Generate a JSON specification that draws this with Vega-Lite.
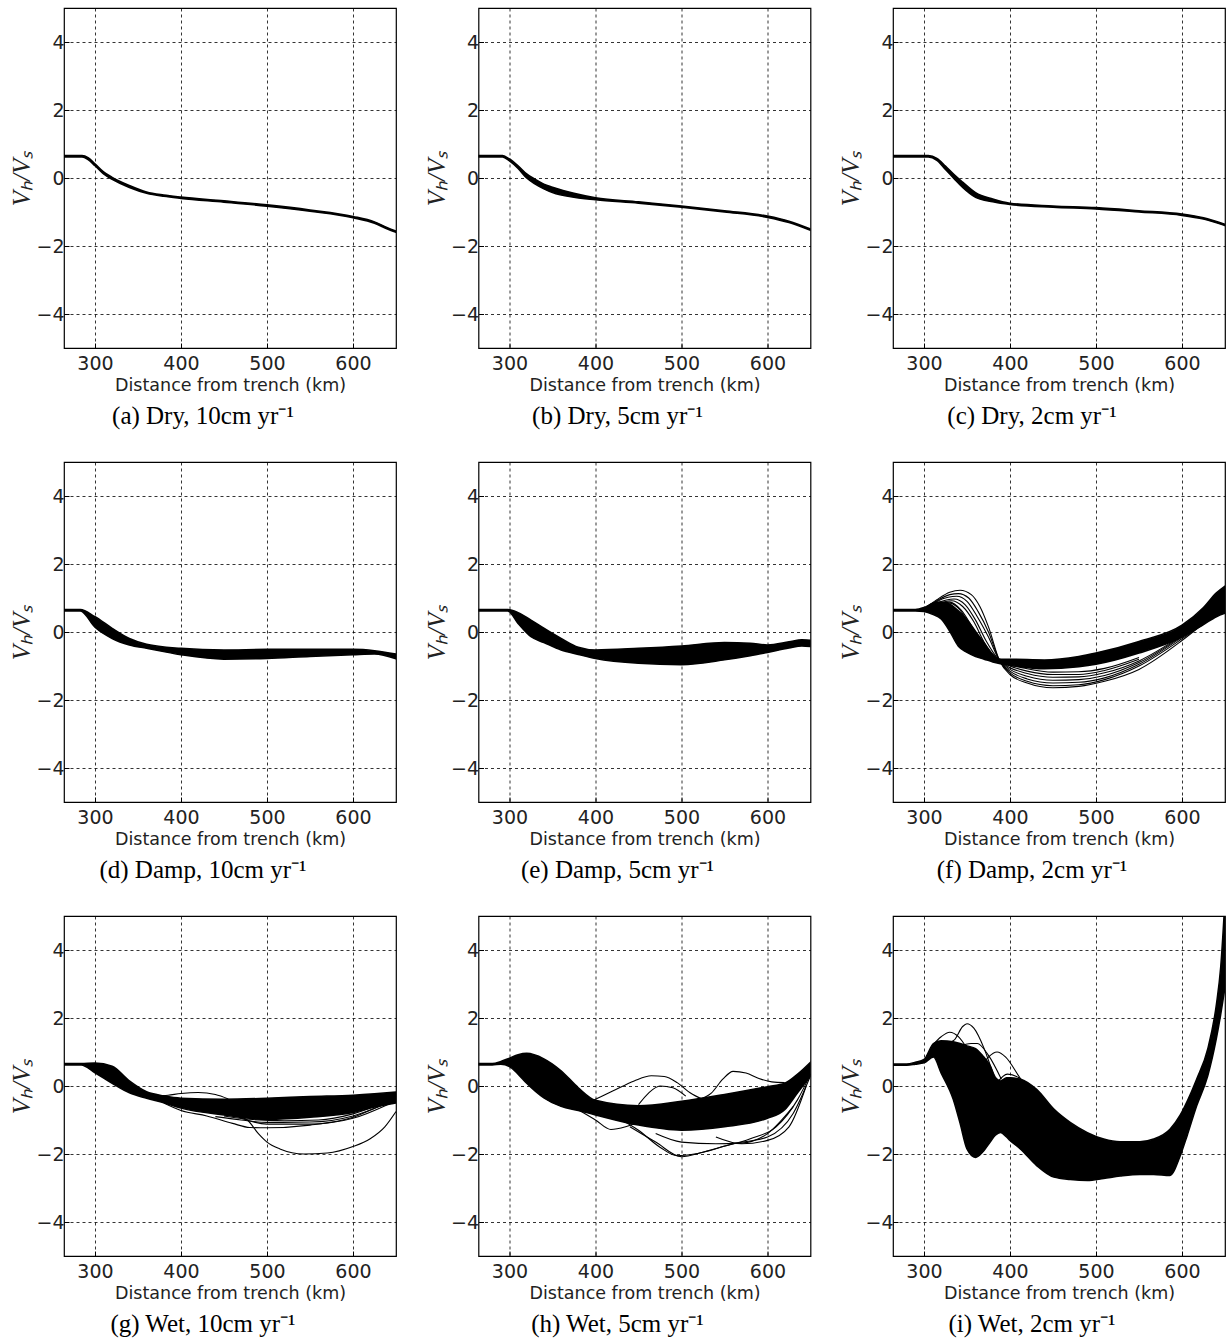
{
"$schema": "https://vega.github.io/schema/vega-lite/v6.json",
"padding": {"left": 9, "top": 7, "right": 0, "bottom": 0},
"background": "white",
"columns": 3,
"spacing": {"row": 31, "column": 26.5},
"config": {
 "view": {"stroke": "black", "strokeWidth": 1.2},
 "axis": {"domain": false, "grid": true, "gridColor": "black", "gridDash": [3, 3], "gridWidth": 0.8, "gridOpacity": 1, "labelFont": "DejaVu Sans", "labelFontSize": 19, "labelColor": "#222", "titleFont": "DejaVu Sans", "titleFontWeight": "normal", "titleColor": "#222", "tickColor": "black", "tickSize": -5, "tickWidth": 1},
 "axisX": {"titleFontSize": 17.5, "titlePadding": 3, "labelPadding": 11},
 "axisY": {"titleFont": "Liberation Serif", "titleFontStyle": "italic", "titleFontSize": 25, "titlePadding": 1, "labelPadding": 5},
 "title": {"font": "Liberation Serif", "fontSize": 25, "fontWeight": "normal", "color": "black", "orient": "bottom", "anchor": "middle", "frame": "bounds", "offset": 10}
},
"datasets": {
"band": [
{"p":"a","x":264,"y":0.62,"hi":0.66},{"p":"a","x":285,"y":0.62,"hi":0.66},{"p":"a","x":292,"y":0.54,"hi":0.6},{"p":"a","x":300,"y":0.36,"hi":0.42},{"p":"a","x":310,"y":0.12,"hi":0.18},{"p":"a","x":320,"y":-0.04,"hi":0.02},{"p":"a","x":340,"y":-0.28,"hi":-0.22},{"p":"a","x":360,"y":-0.45,"hi":-0.41},{"p":"a","x":380,"y":-0.54,"hi":-0.5},{"p":"a","x":400,"y":-0.6,"hi":-0.56},{"p":"a","x":450,"y":-0.71,"hi":-0.67},{"p":"a","x":500,"y":-0.83,"hi":-0.79},{"p":"a","x":550,"y":-0.98,"hi":-0.94},{"p":"a","x":600,"y":-1.17,"hi":-1.13},{"p":"a","x":625,"y":-1.33,"hi":-1.29},{"p":"a","x":640,"y":-1.5,"hi":-1.46},{"p":"a","x":650,"y":-1.6,"hi":-1.56},
{"p":"b","x":264,"y":0.62,"hi":0.66},{"p":"b","x":292,"y":0.62,"hi":0.66},{"p":"b","x":300,"y":0.5,"hi":0.56},{"p":"b","x":310,"y":0.28,"hi":0.36},{"p":"b","x":320,"y":0.0,"hi":0.12},{"p":"b","x":330,"y":-0.18,"hi":-0.04},{"p":"b","x":340,"y":-0.32,"hi":-0.18},{"p":"b","x":350,"y":-0.43,"hi":-0.27},{"p":"b","x":375,"y":-0.57,"hi":-0.45},{"p":"b","x":400,"y":-0.64,"hi":-0.58},{"p":"b","x":450,"y":-0.74,"hi":-0.7},{"p":"b","x":500,"y":-0.86,"hi":-0.82},{"p":"b","x":550,"y":-1.0,"hi":-0.96},{"p":"b","x":600,"y":-1.16,"hi":-1.12},{"p":"b","x":625,"y":-1.31,"hi":-1.27},{"p":"b","x":650,"y":-1.54,"hi":-1.5},
{"p":"c","x":264,"y":0.62,"hi":0.66},{"p":"c","x":305,"y":0.62,"hi":0.66},{"p":"c","x":315,"y":0.52,"hi":0.58},{"p":"c","x":325,"y":0.25,"hi":0.35},{"p":"c","x":335,"y":-0.02,"hi":0.1},{"p":"c","x":345,"y":-0.28,"hi":-0.12},{"p":"c","x":360,"y":-0.57,"hi":-0.43},{"p":"c","x":380,"y":-0.7,"hi":-0.62},{"p":"c","x":400,"y":-0.78,"hi":-0.74},{"p":"c","x":450,"y":-0.86,"hi":-0.82},{"p":"c","x":500,"y":-0.91,"hi":-0.87},{"p":"c","x":550,"y":-1.0,"hi":-0.96},{"p":"c","x":600,"y":-1.1,"hi":-1.06},{"p":"c","x":625,"y":-1.21,"hi":-1.17},{"p":"c","x":650,"y":-1.4,"hi":-1.36},
{"p":"d","x":264,"y":0.62,"hi":0.66},{"p":"d","x":283,"y":0.62,"hi":0.66},{"p":"d","x":300,"y":0.14,"hi":0.45},{"p":"d","x":320,"y":-0.19,"hi":0.11},{"p":"d","x":340,"y":-0.38,"hi":-0.19},{"p":"d","x":360,"y":-0.48,"hi":-0.36},{"p":"d","x":400,"y":-0.67,"hi":-0.48},{"p":"d","x":450,"y":-0.8,"hi":-0.53},{"p":"d","x":500,"y":-0.78,"hi":-0.51},{"p":"d","x":550,"y":-0.72,"hi":-0.51},{"p":"d","x":600,"y":-0.67,"hi":-0.51},{"p":"d","x":625,"y":-0.65,"hi":-0.55},{"p":"d","x":650,"y":-0.79,"hi":-0.65},
{"p":"e","x":264,"y":0.62,"hi":0.66},{"p":"e","x":298,"y":0.62,"hi":0.66},{"p":"e","x":310,"y":0.25,"hi":0.57},{"p":"e","x":325,"y":-0.14,"hi":0.35},{"p":"e","x":340,"y":-0.31,"hi":0.11},{"p":"e","x":360,"y":-0.53,"hi":-0.19},{"p":"e","x":380,"y":-0.66,"hi":-0.45},{"p":"e","x":400,"y":-0.78,"hi":-0.53},{"p":"e","x":450,"y":-0.92,"hi":-0.48},{"p":"e","x":500,"y":-0.96,"hi":-0.41},{"p":"e","x":550,"y":-0.82,"hi":-0.31},{"p":"e","x":580,"y":-0.7,"hi":-0.33},{"p":"e","x":600,"y":-0.6,"hi":-0.38},{"p":"e","x":625,"y":-0.47,"hi":-0.29},{"p":"e","x":640,"y":-0.41,"hi":-0.23},{"p":"e","x":650,"y":-0.43,"hi":-0.24},
{"p":"f","x":264,"y":0.62,"hi":0.66},{"p":"f","x":290,"y":0.62,"hi":0.66},{"p":"f","x":300,"y":0.6,"hi":0.72},{"p":"f","x":310,"y":0.52,"hi":0.84},{"p":"f","x":320,"y":0.38,"hi":0.88},{"p":"f","x":330,"y":0.02,"hi":0.82},{"p":"f","x":340,"y":-0.42,"hi":0.62},{"p":"f","x":350,"y":-0.6,"hi":0.36},{"p":"f","x":360,"y":-0.72,"hi":0.02},{"p":"f","x":370,"y":-0.8,"hi":-0.33},{"p":"f","x":380,"y":-0.88,"hi":-0.68},{"p":"f","x":390,"y":-0.94,"hi":-0.8},{"p":"f","x":400,"y":-0.98,"hi":-0.8},{"p":"f","x":440,"y":-1.08,"hi":-0.82},{"p":"f","x":480,"y":-1.02,"hi":-0.72},{"p":"f","x":500,"y":-0.95,"hi":-0.62},{"p":"f","x":550,"y":-0.62,"hi":-0.28},{"p":"f","x":600,"y":-0.15,"hi":0.2},{"p":"f","x":625,"y":0.22,"hi":0.72},{"p":"f","x":640,"y":0.45,"hi":1.15},{"p":"f","x":650,"y":0.55,"hi":1.35},
{"p":"g","x":264,"y":0.62,"hi":0.66},{"p":"g","x":284,"y":0.62,"hi":0.66},{"p":"g","x":300,"y":0.39,"hi":0.68},{"p":"g","x":320,"y":0.08,"hi":0.58},{"p":"g","x":340,"y":-0.2,"hi":0.15},{"p":"g","x":360,"y":-0.36,"hi":-0.17},{"p":"g","x":380,"y":-0.49,"hi":-0.29},{"p":"g","x":400,"y":-0.65,"hi":-0.36},{"p":"g","x":450,"y":-0.85,"hi":-0.39},{"p":"g","x":500,"y":-0.98,"hi":-0.36},{"p":"g","x":550,"y":-0.92,"hi":-0.31},{"p":"g","x":600,"y":-0.78,"hi":-0.27},{"p":"g","x":625,"y":-0.62,"hi":-0.23},{"p":"g","x":650,"y":-0.5,"hi":-0.18},
{"p":"h","x":264,"y":0.62,"hi":0.66},{"p":"h","x":280,"y":0.62,"hi":0.66},{"p":"h","x":290,"y":0.64,"hi":0.72},{"p":"h","x":300,"y":0.57,"hi":0.82},{"p":"h","x":310,"y":0.35,"hi":0.92},{"p":"h","x":320,"y":0.08,"hi":0.96},{"p":"h","x":340,"y":-0.35,"hi":0.8},{"p":"h","x":360,"y":-0.6,"hi":0.45},{"p":"h","x":380,"y":-0.72,"hi":-0.05},{"p":"h","x":400,"y":-0.85,"hi":-0.42},{"p":"h","x":450,"y":-1.15,"hi":-0.58},{"p":"h","x":500,"y":-1.3,"hi":-0.45},{"p":"h","x":550,"y":-1.2,"hi":-0.25},{"p":"h","x":600,"y":-0.95,"hi":-0.02},{"p":"h","x":620,"y":-0.7,"hi":0.08},{"p":"h","x":635,"y":-0.2,"hi":0.35},{"p":"h","x":650,"y":0.3,"hi":0.7},
{"p":"i","x":264,"y":0.61,"hi":0.65},{"p":"i","x":280,"y":0.61,"hi":0.65},{"p":"i","x":290,"y":0.64,"hi":0.7},{"p":"i","x":300,"y":0.68,"hi":0.78},{"p":"i","x":311,"y":0.85,"hi":1.25},{"p":"i","x":320,"y":0.38,"hi":1.33},{"p":"i","x":334,"y":-0.39,"hi":1.3},{"p":"i","x":342,"y":-1.1,"hi":1.25},{"p":"i","x":350,"y":-1.85,"hi":1.18},{"p":"i","x":360,"y":-2.1,"hi":1.1},{"p":"i","x":368,"y":-1.95,"hi":0.9},{"p":"i","x":377,"y":-1.65,"hi":0.59},{"p":"i","x":383,"y":-1.45,"hi":0.25},{"p":"i","x":389,"y":-1.37,"hi":0.15},{"p":"i","x":396,"y":-1.5,"hi":0.24},{"p":"i","x":400,"y":-1.6,"hi":0.24},{"p":"i","x":412,"y":-1.85,"hi":0.2},{"p":"i","x":431,"y":-2.34,"hi":-0.1},{"p":"i","x":451,"y":-2.68,"hi":-0.68},{"p":"i","x":470,"y":-2.75,"hi":-1.07},{"p":"i","x":490,"y":-2.78,"hi":-1.37},{"p":"i","x":509,"y":-2.72,"hi":-1.56},{"p":"i","x":528,"y":-2.65,"hi":-1.64},{"p":"i","x":551,"y":-2.6,"hi":-1.64},{"p":"i","x":567,"y":-2.6,"hi":-1.56},{"p":"i","x":586,"y":-2.63,"hi":-1.27},{"p":"i","x":598,"y":-2.05,"hi":-0.85},{"p":"i","x":606,"y":-1.46,"hi":-0.45},{"p":"i","x":617,"y":-0.59,"hi":0.2},{"p":"i","x":630,"y":0.3,"hi":1.1},{"p":"i","x":640,"y":1.4,"hi":2.4},{"p":"i","x":645,"y":2.1,"hi":3.5},{"p":"i","x":650,"y":2.9,"hi":5.5}
],
"curves": [
{"p":"f","c":1,"x":300,"y":0.68},{"p":"f","c":1,"x":315,"y":0.95},{"p":"f","c":1,"x":330,"y":1.17},{"p":"f","c":1,"x":342,"y":1.23},{"p":"f","c":1,"x":355,"y":1.1},{"p":"f","c":1,"x":365,"y":0.75},{"p":"f","c":1,"x":375,"y":0.15},{"p":"f","c":1,"x":388,"y":-0.85},{"p":"f","c":1,"x":400,"y":-1.25},{"p":"f","c":1,"x":420,"y":-1.5},{"p":"f","c":1,"x":450,"y":-1.64},{"p":"f","c":1,"x":480,"y":-1.6},{"p":"f","c":1,"x":510,"y":-1.45},{"p":"f","c":1,"x":550,"y":-1.1},{"p":"f","c":1,"x":600,"y":-0.25},{"p":"f","c":1,"x":625,"y":0.25},
{"p":"f","c":2,"x":300,"y":0.67},{"p":"f","c":2,"x":315,"y":0.92},{"p":"f","c":2,"x":330,"y":1.1},{"p":"f","c":2,"x":340,"y":1.13},{"p":"f","c":2,"x":352,"y":1.0},{"p":"f","c":2,"x":363,"y":0.6},{"p":"f","c":2,"x":375,"y":0.0},{"p":"f","c":2,"x":388,"y":-0.85},{"p":"f","c":2,"x":400,"y":-1.2},{"p":"f","c":2,"x":420,"y":-1.45},{"p":"f","c":2,"x":450,"y":-1.58},{"p":"f","c":2,"x":480,"y":-1.55},{"p":"f","c":2,"x":510,"y":-1.4},{"p":"f","c":2,"x":550,"y":-1.0},{"p":"f","c":2,"x":600,"y":-0.2},{"p":"f","c":2,"x":625,"y":0.25},
{"p":"f","c":3,"x":300,"y":0.67},{"p":"f","c":3,"x":315,"y":0.9},{"p":"f","c":3,"x":328,"y":1.02},{"p":"f","c":3,"x":338,"y":1.05},{"p":"f","c":3,"x":350,"y":0.9},{"p":"f","c":3,"x":362,"y":0.45},{"p":"f","c":3,"x":375,"y":-0.15},{"p":"f","c":3,"x":388,"y":-0.85},{"p":"f","c":3,"x":400,"y":-1.15},{"p":"f","c":3,"x":420,"y":-1.38},{"p":"f","c":3,"x":450,"y":-1.5},{"p":"f","c":3,"x":480,"y":-1.48},{"p":"f","c":3,"x":510,"y":-1.35},{"p":"f","c":3,"x":550,"y":-0.95},{"p":"f","c":3,"x":600,"y":-0.15},
{"p":"f","c":4,"x":300,"y":0.66},{"p":"f","c":4,"x":315,"y":0.85},{"p":"f","c":4,"x":335,"y":0.97},{"p":"f","c":4,"x":348,"y":0.8},{"p":"f","c":4,"x":360,"y":0.35},{"p":"f","c":4,"x":372,"y":-0.25},{"p":"f","c":4,"x":388,"y":-0.85},{"p":"f","c":4,"x":400,"y":-1.1},{"p":"f","c":4,"x":420,"y":-1.3},{"p":"f","c":4,"x":450,"y":-1.42},{"p":"f","c":4,"x":480,"y":-1.4},{"p":"f","c":4,"x":510,"y":-1.28},{"p":"f","c":4,"x":550,"y":-0.9},{"p":"f","c":4,"x":600,"y":-0.12},
{"p":"f","c":5,"x":300,"y":0.66},{"p":"f","c":5,"x":315,"y":0.82},{"p":"f","c":5,"x":332,"y":0.92},{"p":"f","c":5,"x":345,"y":0.75},{"p":"f","c":5,"x":358,"y":0.3},{"p":"f","c":5,"x":370,"y":-0.3},{"p":"f","c":5,"x":388,"y":-0.85},{"p":"f","c":5,"x":400,"y":-1.05},{"p":"f","c":5,"x":420,"y":-1.22},{"p":"f","c":5,"x":450,"y":-1.33},{"p":"f","c":5,"x":480,"y":-1.32},{"p":"f","c":5,"x":510,"y":-1.2},{"p":"f","c":5,"x":550,"y":-0.85},{"p":"f","c":5,"x":600,"y":-0.1},
{"p":"f","c":6,"x":300,"y":0.65},{"p":"f","c":6,"x":315,"y":0.8},{"p":"f","c":6,"x":330,"y":0.88},{"p":"f","c":6,"x":343,"y":0.65},{"p":"f","c":6,"x":355,"y":0.2},{"p":"f","c":6,"x":368,"y":-0.35},{"p":"f","c":6,"x":388,"y":-0.85},{"p":"f","c":6,"x":400,"y":-1.0},{"p":"f","c":6,"x":420,"y":-1.15},{"p":"f","c":6,"x":450,"y":-1.25},{"p":"f","c":6,"x":480,"y":-1.25},{"p":"f","c":6,"x":510,"y":-1.13},{"p":"f","c":6,"x":550,"y":-0.8},
{"p":"f","c":7,"x":300,"y":0.65},{"p":"f","c":7,"x":330,"y":0.85},{"p":"f","c":7,"x":340,"y":0.7},{"p":"f","c":7,"x":352,"y":0.25},{"p":"f","c":7,"x":365,"y":-0.35},{"p":"f","c":7,"x":388,"y":-0.85},{"p":"f","c":7,"x":420,"y":-1.08},{"p":"f","c":7,"x":450,"y":-1.18},{"p":"f","c":7,"x":480,"y":-1.17},{"p":"f","c":7,"x":510,"y":-1.07},{"p":"f","c":7,"x":550,"y":-0.75},
{"p":"g","c":1,"x":460,"y":-0.85},{"p":"g","c":1,"x":477,"y":-1.0},{"p":"g","c":1,"x":490,"y":-1.4},{"p":"g","c":1,"x":500,"y":-1.65},{"p":"g","c":1,"x":515,"y":-1.85},{"p":"g","c":1,"x":543,"y":-2.0},{"p":"g","c":1,"x":570,"y":-1.97},{"p":"g","c":1,"x":600,"y":-1.78},{"p":"g","c":1,"x":620,"y":-1.55},{"p":"g","c":1,"x":637,"y":-1.2},{"p":"g","c":1,"x":650,"y":-0.75},
{"p":"g","c":2,"x":370,"y":-0.3},{"p":"g","c":2,"x":385,"y":-0.27},{"p":"g","c":2,"x":400,"y":-0.22},{"p":"g","c":2,"x":420,"y":-0.19},{"p":"g","c":2,"x":440,"y":-0.25},{"p":"g","c":2,"x":455,"y":-0.38},
{"p":"g","c":3,"x":380,"y":-0.5},{"p":"g","c":3,"x":400,"y":-0.72},{"p":"g","c":3,"x":430,"y":-0.88},{"p":"g","c":3,"x":460,"y":-1.1},{"p":"g","c":3,"x":480,"y":-1.22},{"p":"g","c":3,"x":500,"y":-1.23},{"p":"g","c":3,"x":550,"y":-1.15},{"p":"g","c":3,"x":600,"y":-0.92},{"p":"g","c":3,"x":630,"y":-0.6},{"p":"g","c":3,"x":650,"y":-0.4},
{"p":"g","c":4,"x":440,"y":-0.9},{"p":"g","c":4,"x":470,"y":-1.0},{"p":"g","c":4,"x":500,"y":-1.07},{"p":"g","c":4,"x":550,"y":-1.06},{"p":"g","c":4,"x":600,"y":-0.88},{"p":"g","c":4,"x":640,"y":-0.5},
{"p":"g","c":5,"x":450,"y":-0.88},{"p":"g","c":5,"x":480,"y":-0.98},{"p":"g","c":5,"x":520,"y":-1.02},{"p":"g","c":5,"x":560,"y":-1.0},{"p":"g","c":5,"x":600,"y":-0.82},{"p":"g","c":5,"x":640,"y":-0.45},
{"p":"g","c":6,"x":470,"y":-0.95},{"p":"g","c":6,"x":500,"y":-1.12},{"p":"g","c":6,"x":550,"y":-1.12},{"p":"g","c":6,"x":600,"y":-0.95},{"p":"g","c":6,"x":640,"y":-0.55},
{"p":"h","c":1,"x":395,"y":-0.45},{"p":"h","c":1,"x":420,"y":-0.15},{"p":"h","c":1,"x":445,"y":0.15},{"p":"h","c":1,"x":465,"y":0.3},{"p":"h","c":1,"x":480,"y":0.28},{"p":"h","c":1,"x":495,"y":0.1},{"p":"h","c":1,"x":510,"y":-0.2},{"p":"h","c":1,"x":525,"y":-0.4},
{"p":"h","c":2,"x":520,"y":-0.4},{"p":"h","c":2,"x":535,"y":-0.2},{"p":"h","c":2,"x":548,"y":0.2},{"p":"h","c":2,"x":560,"y":0.43},{"p":"h","c":2,"x":575,"y":0.38},{"p":"h","c":2,"x":590,"y":0.22},{"p":"h","c":2,"x":605,"y":0.12},{"p":"h","c":2,"x":620,"y":0.1},
{"p":"h","c":3,"x":450,"y":-0.55},{"p":"h","c":3,"x":462,"y":-0.2},{"p":"h","c":3,"x":475,"y":0.0},{"p":"h","c":3,"x":490,"y":-0.05},{"p":"h","c":3,"x":505,"y":-0.3},
{"p":"h","c":4,"x":420,"y":-0.85},{"p":"h","c":4,"x":450,"y":-1.3},{"p":"h","c":4,"x":475,"y":-1.8},{"p":"h","c":4,"x":495,"y":-2.05},{"p":"h","c":4,"x":515,"y":-2.0},{"p":"h","c":4,"x":545,"y":-1.8},{"p":"h","c":4,"x":580,"y":-1.55},{"p":"h","c":4,"x":610,"y":-1.2},{"p":"h","c":4,"x":635,"y":-0.4},{"p":"h","c":4,"x":650,"y":0.35},
{"p":"h","c":5,"x":440,"y":-1.2},{"p":"h","c":5,"x":470,"y":-1.65},{"p":"h","c":5,"x":500,"y":-2.08},{"p":"h","c":5,"x":525,"y":-1.95},{"p":"h","c":5,"x":560,"y":-1.7},{"p":"h","c":5,"x":600,"y":-1.5},{"p":"h","c":5,"x":630,"y":-0.8},{"p":"h","c":5,"x":650,"y":0.3},
{"p":"h","c":6,"x":380,"y":-0.7},{"p":"h","c":6,"x":400,"y":-1.0},{"p":"h","c":6,"x":418,"y":-1.28},{"p":"h","c":6,"x":435,"y":-1.2},{"p":"h","c":6,"x":455,"y":-1.0},
{"p":"h","c":7,"x":470,"y":-1.4},{"p":"h","c":7,"x":500,"y":-1.65},{"p":"h","c":7,"x":540,"y":-1.7},{"p":"h","c":7,"x":570,"y":-1.68},{"p":"h","c":7,"x":600,"y":-1.4},{"p":"h","c":7,"x":630,"y":-0.6},
{"p":"h","c":8,"x":540,"y":-1.5},{"p":"h","c":8,"x":570,"y":-1.7},{"p":"h","c":8,"x":600,"y":-1.6},{"p":"h","c":8,"x":625,"y":-1.2},{"p":"h","c":8,"x":645,"y":0.0},
{"p":"i","c":1,"x":320,"y":1.2},{"p":"i","c":1,"x":335,"y":1.35},{"p":"i","c":1,"x":345,"y":1.75},{"p":"i","c":1,"x":350,"y":1.83},{"p":"i","c":1,"x":358,"y":1.7},{"p":"i","c":1,"x":370,"y":1.1},{"p":"i","c":1,"x":380,"y":0.4},{"p":"i","c":1,"x":390,"y":-0.2},{"p":"i","c":1,"x":400,"y":-0.7},
{"p":"i","c":2,"x":310,"y":1.2},{"p":"i","c":2,"x":320,"y":1.45},{"p":"i","c":2,"x":330,"y":1.58},{"p":"i","c":2,"x":340,"y":1.45},{"p":"i","c":2,"x":350,"y":1.1},{"p":"i","c":2,"x":360,"y":0.6},{"p":"i","c":2,"x":370,"y":0.0},
{"p":"i","c":3,"x":340,"y":1.15},{"p":"i","c":3,"x":355,"y":1.25},{"p":"i","c":3,"x":362,"y":1.25},{"p":"i","c":3,"x":375,"y":0.9},{"p":"i","c":3,"x":390,"y":0.2},
{"p":"i","c":4,"x":365,"y":0.5},{"p":"i","c":4,"x":375,"y":0.85},{"p":"i","c":4,"x":385,"y":1.0},{"p":"i","c":4,"x":395,"y":0.85},{"p":"i","c":4,"x":410,"y":0.3},{"p":"i","c":4,"x":425,"y":-0.3},
{"p":"i","c":5,"x":385,"y":0.1},{"p":"i","c":5,"x":397,"y":0.35},{"p":"i","c":5,"x":410,"y":0.25},{"p":"i","c":5,"x":430,"y":-0.2}
]
},
"concat": [
{"width":332,"height":340,"title":"(a) Dry, 10cm yr⁻¹",
 "encoding":{"x":{"field":"x","type":"quantitative","scale":{"domain":[264,650],"nice":false,"zero":false},"axis":{"values":[300,400,500,600],"title":"Distance from trench (km)"}},"y":{"field":"y","type":"quantitative","scale":{"domain":[-5,5],"nice":false},"axis":{"values":[-4,-2,0,2,4],"title":"Vₕ/Vₛ"}}},
 "layer":[{"data":{"name":"band"},"transform":[{"filter":"datum.p==='a'"}],"mark":{"type":"area","color":"black","stroke":"black","strokeWidth":1.5,"interpolate":"monotone","clip":true},"encoding":{"y2":{"field":"hi"}}}]},
{"width":332,"height":340,"title":"(b) Dry, 5cm yr⁻¹",
 "encoding":{"x":{"field":"x","type":"quantitative","scale":{"domain":[264,650],"nice":false,"zero":false},"axis":{"values":[300,400,500,600],"title":"Distance from trench (km)"}},"y":{"field":"y","type":"quantitative","scale":{"domain":[-5,5],"nice":false},"axis":{"values":[-4,-2,0,2,4],"title":"Vₕ/Vₛ"}}},
 "layer":[{"data":{"name":"band"},"transform":[{"filter":"datum.p==='b'"}],"mark":{"type":"area","color":"black","stroke":"black","strokeWidth":1.5,"interpolate":"monotone","clip":true},"encoding":{"y2":{"field":"hi"}}}]},
{"width":332,"height":340,"title":"(c) Dry, 2cm yr⁻¹",
 "encoding":{"x":{"field":"x","type":"quantitative","scale":{"domain":[264,650],"nice":false,"zero":false},"axis":{"values":[300,400,500,600],"title":"Distance from trench (km)"}},"y":{"field":"y","type":"quantitative","scale":{"domain":[-5,5],"nice":false},"axis":{"values":[-4,-2,0,2,4],"title":"Vₕ/Vₛ"}}},
 "layer":[{"data":{"name":"band"},"transform":[{"filter":"datum.p==='c'"}],"mark":{"type":"area","color":"black","stroke":"black","strokeWidth":1.5,"interpolate":"monotone","clip":true},"encoding":{"y2":{"field":"hi"}}}]},
{"width":332,"height":340,"title":"(d) Damp, 10cm yr⁻¹",
 "encoding":{"x":{"field":"x","type":"quantitative","scale":{"domain":[264,650],"nice":false,"zero":false},"axis":{"values":[300,400,500,600],"title":"Distance from trench (km)"}},"y":{"field":"y","type":"quantitative","scale":{"domain":[-5,5],"nice":false},"axis":{"values":[-4,-2,0,2,4],"title":"Vₕ/Vₛ"}}},
 "layer":[{"data":{"name":"band"},"transform":[{"filter":"datum.p==='d'"}],"mark":{"type":"area","color":"black","stroke":"black","strokeWidth":1.5,"interpolate":"monotone","clip":true},"encoding":{"y2":{"field":"hi"}}}]},
{"width":332,"height":340,"title":"(e) Damp, 5cm yr⁻¹",
 "encoding":{"x":{"field":"x","type":"quantitative","scale":{"domain":[264,650],"nice":false,"zero":false},"axis":{"values":[300,400,500,600],"title":"Distance from trench (km)"}},"y":{"field":"y","type":"quantitative","scale":{"domain":[-5,5],"nice":false},"axis":{"values":[-4,-2,0,2,4],"title":"Vₕ/Vₛ"}}},
 "layer":[{"data":{"name":"band"},"transform":[{"filter":"datum.p==='e'"}],"mark":{"type":"area","color":"black","stroke":"black","strokeWidth":1.5,"interpolate":"monotone","clip":true},"encoding":{"y2":{"field":"hi"}}}]},
{"width":332,"height":340,"title":"(f) Damp, 2cm yr⁻¹",
 "encoding":{"x":{"field":"x","type":"quantitative","scale":{"domain":[264,650],"nice":false,"zero":false},"axis":{"values":[300,400,500,600],"title":"Distance from trench (km)"}},"y":{"field":"y","type":"quantitative","scale":{"domain":[-5,5],"nice":false},"axis":{"values":[-4,-2,0,2,4],"title":"Vₕ/Vₛ"}}},
 "layer":[{"data":{"name":"band"},"transform":[{"filter":"datum.p==='f'"}],"mark":{"type":"area","color":"black","stroke":"black","strokeWidth":1.5,"interpolate":"monotone","clip":true},"encoding":{"y2":{"field":"hi"}}},
  {"data":{"name":"curves"},"transform":[{"filter":"datum.p==='f'"}],"mark":{"type":"line","color":"black","strokeWidth":1.1,"interpolate":"monotone","clip":true},"encoding":{"detail":{"field":"c","type":"nominal"}}}]},
{"width":332,"height":340,"title":"(g) Wet, 10cm yr⁻¹",
 "encoding":{"x":{"field":"x","type":"quantitative","scale":{"domain":[264,650],"nice":false,"zero":false},"axis":{"values":[300,400,500,600],"title":"Distance from trench (km)"}},"y":{"field":"y","type":"quantitative","scale":{"domain":[-5,5],"nice":false},"axis":{"values":[-4,-2,0,2,4],"title":"Vₕ/Vₛ"}}},
 "layer":[{"data":{"name":"band"},"transform":[{"filter":"datum.p==='g'"}],"mark":{"type":"area","color":"black","stroke":"black","strokeWidth":1.5,"interpolate":"monotone","clip":true},"encoding":{"y2":{"field":"hi"}}},
  {"data":{"name":"curves"},"transform":[{"filter":"datum.p==='g'"}],"mark":{"type":"line","color":"black","strokeWidth":1.1,"interpolate":"monotone","clip":true},"encoding":{"detail":{"field":"c","type":"nominal"}}}]},
{"width":332,"height":340,"title":"(h) Wet, 5cm yr⁻¹",
 "encoding":{"x":{"field":"x","type":"quantitative","scale":{"domain":[264,650],"nice":false,"zero":false},"axis":{"values":[300,400,500,600],"title":"Distance from trench (km)"}},"y":{"field":"y","type":"quantitative","scale":{"domain":[-5,5],"nice":false},"axis":{"values":[-4,-2,0,2,4],"title":"Vₕ/Vₛ"}}},
 "layer":[{"data":{"name":"band"},"transform":[{"filter":"datum.p==='h'"}],"mark":{"type":"area","color":"black","stroke":"black","strokeWidth":1.5,"interpolate":"monotone","clip":true},"encoding":{"y2":{"field":"hi"}}},
  {"data":{"name":"curves"},"transform":[{"filter":"datum.p==='h'"}],"mark":{"type":"line","color":"black","strokeWidth":1.1,"interpolate":"monotone","clip":true},"encoding":{"detail":{"field":"c","type":"nominal"}}}]},
{"width":332,"height":340,"title":"(i) Wet, 2cm yr⁻¹",
 "encoding":{"x":{"field":"x","type":"quantitative","scale":{"domain":[264,650],"nice":false,"zero":false},"axis":{"values":[300,400,500,600],"title":"Distance from trench (km)"}},"y":{"field":"y","type":"quantitative","scale":{"domain":[-5,5],"nice":false},"axis":{"values":[-4,-2,0,2,4],"title":"Vₕ/Vₛ"}}},
 "layer":[{"data":{"name":"band"},"transform":[{"filter":"datum.p==='i'"}],"mark":{"type":"area","color":"black","stroke":"black","strokeWidth":1.5,"interpolate":"monotone","clip":true},"encoding":{"y2":{"field":"hi"}}},
  {"data":{"name":"curves"},"transform":[{"filter":"datum.p==='i'"}],"mark":{"type":"line","color":"black","strokeWidth":1.1,"interpolate":"monotone","clip":true},"encoding":{"detail":{"field":"c","type":"nominal"}}}]}
]
}
